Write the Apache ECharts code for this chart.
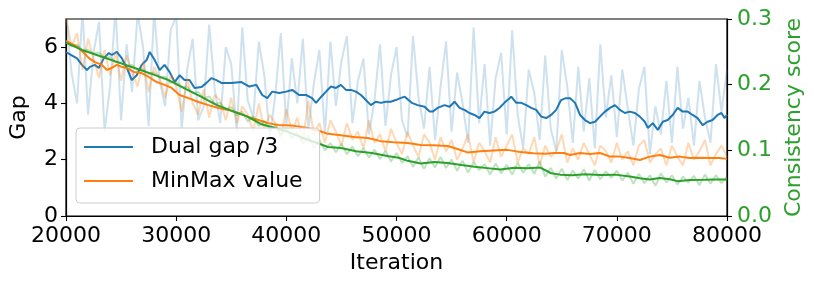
<!DOCTYPE html>
<html>
<head>
<meta charset="utf-8">
<script src="https://cdn.jsdelivr.net/npm/echarts@6/dist/echarts.min.js"></script>
<style>
html,body{margin:0;padding:0;background:#fff;}
#c{width:814px;height:288px;}
</style>
</head>
<body>
<div id="c"></div>
<script>
// ---- data ----
const xTicks = [20000, 30000, 40000, 50000, 60000, 70000, 80000];
const gapTicks = [0, 2, 4, 6];
const scoreTicks = [0, 0.1, 0.2, 0.3];

const rawIter = [20000,20500,21000,21500,22000,22500,23000,23500,24000,24500,25000,25500,26000,26500,27000,27500,28000,28500,29000,29500,
30000,30500,31000,31500,32000,32500,33000,33500,34000,34500,35000,35500,36000,36500,37000,37500,38000,38500,39000,39500,
40000,40500,41000,41500,42000,42500,43000,43500,44000,44500,45000,45500,46000,46500,47000,47500,48000,48500,49000,49500,
50000,50500,51000,51500,52000,52500,53000,53500,54000,54500,55000,55500,56000,56500,57000,57500,58000,58500,59000,59500,
60000,60500,61000,61500,62000,62500,63000,63500,64000,64500,65000,65500,66000,66500,67000,67500,68000,68500,69000,69500,
70000,70500,71000,71500,72000,72500,73000,73500,74000,74500,75000,75500,76000,76500,77000,77500,78000,78500,79000,79500,80000];

// Dual gap /3, raw (faint)
const gapRaw = [7.2,5.1,4.0,7.3,3.6,5.8,6.9,3.0,4.6,7.4,
3.4,6.1,4.4,7.2,6.0,3.2,7.3,4.8,3.9,6.6,
7.1,3.1,5.2,6.3,3.4,3.9,6.8,4.5,3.3,6.0,
5.4,3.0,6.7,4.1,3.5,6.2,5.0,2.8,4.3,6.5,
3.2,5.6,4.0,6.3,3.1,4.7,5.9,2.9,6.2,3.9,
5.5,6.4,3.3,4.8,5.6,2.9,4.1,6.1,3.2,5.0,
6.0,3.4,2.8,6.4,4.2,3.1,5.3,2.7,4.6,6.2,
3.0,5.1,4.0,2.6,6.7,3.3,5.4,2.5,4.9,5.8,
2.9,6.6,3.6,2.4,5.2,4.4,2.7,5.7,3.1,2.3,
5.9,4.6,2.6,5.3,3.0,4.9,2.4,6.1,3.5,5.0,
2.8,5.2,3.8,2.5,4.5,5.3,2.2,3.9,2.9,4.8,
2.6,5.3,3.1,4.2,2.5,4.8,3.5,2.6,5.4,3.7,5.2];

// Dual gap /3, smoothed
const gapIter = [20000,21000,21450,21900,22170,22620,22980,23440,23890,24160,24610,25060,25520,25970,26420,26870,27320,27600,28050,28500,
28950,29400,29860,30310,30760,31210,31670,32300,32750,33200,33650,34110,35010,35920,36640,37270,37810,38270,38720,39350,
39990,40530,41160,41790,42340,42700,43150,43600,44050,44510,44960,45410,45860,46320,46770,47220,47670,48120,48580,49030,
49480,49930,50290,50750,51380,51920,52550,53010,53280,53730,54360,54820,55270,55720,56170,56620,57080,57530,57980,58430,
58890,59340,59790,60420,60870,61330,61780,62230,62680,63140,63590,64040,64490,64940,65310,65760,66210,66660,67110,67570,
68020,68470,68920,69380,69830,70280,70730,71180,71640,72090,72540,72810,73260,73720,74170,74620,75070,75520,75980,76430,
76880,77330,77790,78240,78690,79140,79500,79770,80000];
const gapSmooth = [5.82,5.6,5.37,5.19,5.3,5.37,5.26,5.61,5.79,5.72,5.83,5.61,5.26,4.83,5.0,5.37,5.54,5.83,5.54,5.19,
5.37,5.12,4.76,5.0,4.83,4.83,4.55,4.58,4.73,4.9,4.83,4.73,4.73,4.76,4.6,4.66,4.3,4.19,4.42,4.37,
4.42,4.48,4.3,4.3,4.19,4.02,4.23,4.42,4.6,4.55,4.66,4.48,4.48,4.42,4.3,4.12,3.94,4.06,4.02,4.06,
4.06,4.12,4.18,4.24,4.02,3.94,3.88,3.71,3.71,3.84,3.94,3.88,4.06,3.84,3.77,3.66,3.59,3.48,3.71,3.66,
3.71,3.84,4.02,4.24,4.02,4.02,3.94,3.84,3.77,3.53,3.48,3.59,3.77,4.12,4.18,4.18,4.02,3.59,3.41,3.3,
3.35,3.53,3.71,3.84,3.94,3.77,3.66,3.71,3.66,3.53,3.35,3.13,3.3,3.06,3.35,3.41,3.59,3.84,3.71,3.71,
3.59,3.48,3.23,3.35,3.41,3.59,3.66,3.48,3.59];

// MinMax value, raw (faint)
const valRaw = [7.1,6.0,6.5,5.2,6.3,5.6,4.9,5.9,5.0,5.8,
4.8,5.7,5.1,4.6,5.5,4.4,5.3,4.9,4.2,5.0,
4.6,3.7,4.9,4.0,3.6,4.5,3.5,4.3,4.1,3.4,
4.2,3.3,3.9,3.6,3.0,4.0,3.1,3.6,3.3,2.8,
3.8,3.0,3.5,2.7,4.1,2.9,3.3,2.6,3.4,3.0,
2.5,3.3,2.7,3.0,2.4,3.4,2.6,2.9,2.3,3.1,
2.6,2.2,3.0,2.5,2.1,2.9,2.6,2.0,2.8,2.3,
2.7,2.0,2.4,2.9,1.9,2.6,2.3,1.9,2.8,2.1,
2.5,2.9,1.9,2.4,2.2,2.8,1.8,2.5,2.1,2.3,
2.9,1.9,2.4,2.0,2.6,2.2,1.8,2.5,2.3,1.9,
2.6,2.0,2.3,1.8,2.5,2.7,1.9,2.2,2.4,1.8,
2.5,2.1,1.8,2.6,2.0,2.3,2.7,1.8,2.2,2.5,2.1];

// MinMax value, smoothed
const valIter = [20000,20990,21630,22080,22620,23260,23710,24160,24610,25060,25520,26150,26870,27510,28230,28950,29590,30310,31120,32030,
32930,33840,34740,35640,36550,37450,38360,39260,40440,41790,42880,43780,44960,46130,47400,48580,49750,51020,52190,53370,
54630,55540,56440,57620,58800,60060,61240,62410,63500,64310,65220,65760,66660,67570,68470,69380,70280,71180,72090,72990,
73900,74800,75710,76610,77510,78420,79320,80000];
const valSmooth = [6.22,6.02,5.79,5.61,5.47,5.37,5.19,5.26,5.37,5.3,5.26,5.12,5.08,4.94,4.76,4.66,4.55,4.3,4.19,4.05,
3.94,3.84,3.77,3.66,3.52,3.41,3.3,3.23,3.22,3.14,3.04,2.92,2.87,2.81,2.77,2.66,2.62,2.59,2.52,2.51,
2.49,2.38,2.26,2.3,2.33,2.35,2.27,2.23,2.21,2.24,2.24,2.17,2.24,2.2,2.24,2.11,2.11,2.06,1.99,2.11,
2.17,2.07,2.11,2.06,2.07,2.06,2.06,2.03];

// Consistency score, raw (faint)
const scoreRaw = [0.266,0.259,0.261,0.252,0.253,0.247,0.249,0.241,0.242,0.234,
0.235,0.228,0.230,0.222,0.224,0.216,0.219,0.211,0.212,0.203,
0.205,0.196,0.197,0.187,0.189,0.179,0.182,0.171,0.172,0.162,
0.166,0.153,0.159,0.144,0.152,0.137,0.145,0.130,0.138,0.124,
0.134,0.118,0.127,0.111,0.122,0.104,0.116,0.100,0.111,0.097,
0.110,0.094,0.106,0.091,0.103,0.089,0.101,0.087,0.099,0.083,
0.096,0.081,0.091,0.075,0.089,0.072,0.088,0.074,0.090,0.073,
0.086,0.069,0.084,0.066,0.082,0.070,0.079,0.063,0.080,0.065,
0.078,0.063,0.081,0.066,0.079,0.064,0.083,0.060,0.073,0.057,
0.072,0.055,0.069,0.057,0.071,0.054,0.070,0.056,0.068,0.058,
0.069,0.054,0.066,0.049,0.064,0.050,0.062,0.046,0.065,0.051,
0.062,0.048,0.060,0.051,0.061,0.047,0.063,0.049,0.062,0.050,0.060];

// Consistency score, smoothed
const scoreIter = [20000,21450,23260,24790,26240,27780,29310,30850,32300,33650,35280,36370,37810,38900,40170,41340,42520,43790,44960,46320,
47760,49300,50200,51020,52190,53460,54630,55900,57080,58250,59430,60690,61870,63050,64040,64850,65940,67120,68470,69830,
71180,72090,72990,73900,74800,75520,76610,77970,79050,80000];
const scoreSmooth = [0.2636,0.2529,0.2426,0.2336,0.2254,0.2164,0.207,0.1937,0.1813,0.1693,0.1586,0.1521,0.1393,0.1346,0.1281,0.12,0.1127,0.105,0.1037,0.0986,
0.096,0.0909,0.0887,0.084,0.0801,0.0823,0.0806,0.0776,0.075,0.0729,0.0707,0.0733,0.0729,0.0737,0.0651,0.063,0.0621,0.0634,0.0626,0.063,
0.06,0.0574,0.0557,0.0579,0.0561,0.0531,0.0549,0.0553,0.0557,0.0557];

// ---- chart ----
const BLUE = '#1f77b4', ORANGE = '#ff7f0e', GREEN = '#2ca02c';
const FONT = 'DejaVu Sans';
function zip(xs, ys) { const n = Math.min(xs.length, ys.length); const out = []; for (let i = 0; i < n; i++) out.push([xs[i], ys[i]]); return out; }
function lineSeries(name, xs, ys, color, opacity, yIdx) {
  return {
    type: 'line', name: name, data: zip(xs, ys), yAxisIndex: yIdx,
    color: color, symbol: 'none', showSymbol: false, silent: true,
    lineStyle: { color: color, width: 2, opacity: opacity },
    emphasis: { disabled: true }, clip: true
  };
}

const chart = echarts.init(document.getElementById('c'), null, { renderer: 'canvas' });
chart.setOption({
  animation: false,
  textStyle: { fontFamily: FONT },
  grid: { left: 64, right: 87, top: 19, bottom: 72, show: true, borderColor: '#000', borderWidth: 1.2, backgroundColor: 'transparent' },
  legend: {
    data: [{ name: 'Dual gap /3', icon: 'rect' }, { name: 'MinMax value', icon: 'rect' }],
    orient: 'vertical', left: 76, top: 128,
    itemWidth: 49, itemHeight: 2.2, itemGap: 8,
    padding: [6, 17, 9, 8],
    backgroundColor: 'rgba(255,255,255,0.8)', borderColor: '#cccccc', borderWidth: 1, borderRadius: 4,
    textStyle: { fontFamily: FONT, fontSize: 22, color: '#000', lineHeight: 26, padding: [0, 0, 0, 13] },
    selectedMode: false
  },
  xAxis: {
    type: 'value', min: 20000, max: 80000, interval: 10000,
    name: 'Iteration', nameLocation: 'middle', nameGap: 34,
    nameTextStyle: { fontFamily: FONT, fontSize: 22, color: '#000' },
    axisLine: { show: true, lineStyle: { color: '#000', width: 1.2 } },
    axisTick: { show: true, length: 5, inside: false, lineStyle: { color: '#000', width: 1.1 }, customValues: xTicks },
    axisLabel: { fontFamily: FONT, fontSize: 22, color: '#000', margin: 9, customValues: xTicks, formatter: v => String(v) },
    splitLine: { show: false }
  },
  yAxis: [
    {
      type: 'value', min: 0, max: 7, position: 'left',
      name: 'Gap', nameLocation: 'middle', nameGap: 36, nameRotate: 90,
      nameTextStyle: { fontFamily: FONT, fontSize: 22, color: '#000' },
      axisLine: { show: true, lineStyle: { color: '#000', width: 1.2 } },
      axisTick: { show: true, length: 5, lineStyle: { color: '#000', width: 1.1 }, customValues: gapTicks },
      axisLabel: { fontFamily: FONT, fontSize: 22, color: '#000', margin: 8, customValues: gapTicks, formatter: v => String(v) },
      splitLine: { show: false }
    },
    {
      type: 'value', min: 0, max: 0.3, position: 'right',
      name: 'Consistency score', nameLocation: 'middle', nameGap: 52, nameRotate: 90,
      nameTextStyle: { fontFamily: FONT, fontSize: 22, color: GREEN },
      axisLine: { show: true, lineStyle: { color: '#000', width: 1.2 } },
      axisTick: { show: true, length: 5, lineStyle: { color: '#000', width: 1.1 }, customValues: scoreTicks },
      axisLabel: { fontFamily: FONT, fontSize: 22, color: GREEN, margin: 10, customValues: scoreTicks, formatter: v => v.toFixed(1) },
      splitLine: { show: false }
    }
  ],
  series: [
    lineSeries('gap raw', rawIter, gapRaw, BLUE, 0.22, 0),
    lineSeries('Dual gap /3', gapIter, gapSmooth, BLUE, 1, 0),
    lineSeries('value raw', rawIter, valRaw, ORANGE, 0.3, 0),
    lineSeries('MinMax value', valIter, valSmooth, ORANGE, 1, 0),
    lineSeries('score raw', rawIter, scoreRaw, GREEN, 0.3, 1),
    lineSeries('Consistency score', scoreIter, scoreSmooth, GREEN, 1, 1)
  ]
});
</script>
</body>
</html>
